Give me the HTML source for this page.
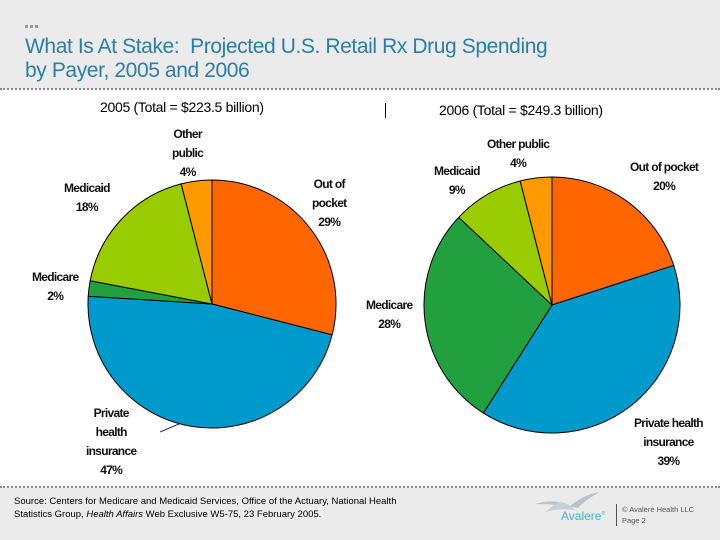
<!DOCTYPE html>
<html><head><meta charset="utf-8"><style>
body{margin:0;width:720px;height:540px;overflow:hidden;font-family:"Liberation Sans",sans-serif;background:#fff;position:relative}
.hdr{position:absolute;left:0;top:0;width:720px;height:89px;background:#ebebeb}
.ftr{position:absolute;left:0;top:488px;width:720px;height:52px;background:#ebebeb}
.dot{position:absolute;left:0;width:720px;border-top:2px dotted #888}
.t{position:absolute;white-space:nowrap}
.lbl{position:absolute;font-size:12px;font-weight:bold;letter-spacing:-0.7px;text-align:center;line-height:19px;color:#111}
.sq{position:absolute;top:25px;width:3px;height:3px;background:#999}
</style></head><body>
<div class="hdr"></div>
<div class="sq" style="left:25px"></div>
<div class="sq" style="left:30px"></div>
<div class="sq" style="left:35px"></div>
<div class="t" style="left:25px;top:35px;font-size:21px;line-height:24px;color:#2a7ea8;letter-spacing:-0.4px">What Is At Stake:&nbsp; Projected U.S. Retail Rx Drug Spending<br>by Payer, 2005 and 2006</div>
<div class="dot" style="top:88px"></div>
<div class="t" style="left:100px;top:99px;font-size:14px;letter-spacing:-0.3px">2005 (Total = $223.5 billion)</div>
<div class="t" style="left:439px;top:102px;font-size:14px;letter-spacing:-0.3px">2006 (Total = $249.3 billion)</div>
<div style="position:absolute;left:385px;top:103px;width:1px;height:15px;background:#000"></div>
<svg id="pies" width="720" height="540" style="position:absolute;left:0;top:0">
<line x1="160" y1="432" x2="193" y2="418" stroke="#000" stroke-width="0.8"/>
</svg>
<div class="lbl" style="left:172px;top:125px">Other<br>public<br>4%</div>
<div class="lbl" style="left:64px;top:179px">Medicaid<br>18%</div>
<div class="lbl" style="left:312px;top:175px">Out of<br>pocket<br>29%</div>
<div class="lbl" style="left:32px;top:268px">Medicare<br>2%</div>
<div class="lbl" style="left:86px;top:404px">Private<br>health<br>insurance<br>47%</div>
<div class="lbl" style="left:487px;top:135px">Other public<br>4%</div>
<div class="lbl" style="left:434px;top:162px">Medicaid<br>9%</div>
<div class="lbl" style="left:630px;top:158px">Out of pocket<br>20%</div>
<div class="lbl" style="left:366px;top:296px">Medicare<br>28%</div>
<div class="lbl" style="left:634px;top:414px">Private health<br>insurance<br>39%</div>
<div class="dot" style="top:486px"></div>
<div class="ftr"></div>
<div class="t" style="left:14px;top:495px;font-size:9.5px;line-height:13px">Source: Centers for Medicare and Medicaid Services, Office of the Actuary, National Health<br>Statistics Group, <i>Health Affairs</i> Web Exclusive W5-75, 23 February 2005.</div>
<svg width="80" height="40" style="position:absolute;left:530px;top:490px">
<path d="M5 14 Q25 8 40 16 Q55 4 70 2 Q55 10 48 18 Q30 14 5 14Z" fill="#b8c4cc"/>
<path d="M15 22 Q30 18 45 20 Q38 12 28 12Z" fill="#c8d0d6"/>
</svg>
<div class="t" style="left:561px;top:509px;font-size:12px;color:#4aaed0">Avalere<sup style="font-size:5px">®</sup></div>
<div style="position:absolute;left:616px;top:504px;width:1px;height:22px;background:#555"></div>
<div class="t" style="left:622px;top:504px;font-size:7.5px;line-height:11px;color:#555">© Avalere Health LLC<br>Page 2</div>
<script>
const cats2005=["Out of pocket","Private health insurance","Medicare","Medicaid","Other public"];
const vals2005=[29,47,2,18,4];
const cats2006=["Out of pocket","Private health insurance","Medicare","Medicaid","Other public"];
const vals2006=[20,39,28,9,4];
const colors2005=["#ff6600","#0099cc","#22a040","#99cc00","#ff9900"];
const colors2006=["#ff6600","#0099cc","#22a040","#99cc00","#ff9900"];
const svg=document.getElementById('pies');
function drawPie(vals,cats,cols,cx,cy,r,name){
  const tot=vals.reduce((a,b)=>a+b,0);let a0=0;
  vals.forEach((v,i)=>{
    const a1=a0+v/tot*2*Math.PI;
    const x0=cx+r*Math.sin(a0),y0=cy-r*Math.cos(a0),x1=cx+r*Math.sin(a1),y1=cy-r*Math.cos(a1);
    const p=document.createElementNS('http://www.w3.org/2000/svg','path');
    p.setAttribute('d',`M${cx},${cy}L${x0},${y0}A${r},${r} 0 ${a1-a0>Math.PI?1:0} 1 ${x1},${y1}Z`);
    p.setAttribute('fill',cols[i]);p.setAttribute('stroke','#000');p.setAttribute('stroke-width','1');
    
    
    svg.appendChild(p);a0=a1;
  });
}
drawPie(vals2005,cats2005,colors2005,212,304,124,'2005');
drawPie(vals2006,cats2006,colors2006,552,305,128,'2006');
</script>
</body></html>
